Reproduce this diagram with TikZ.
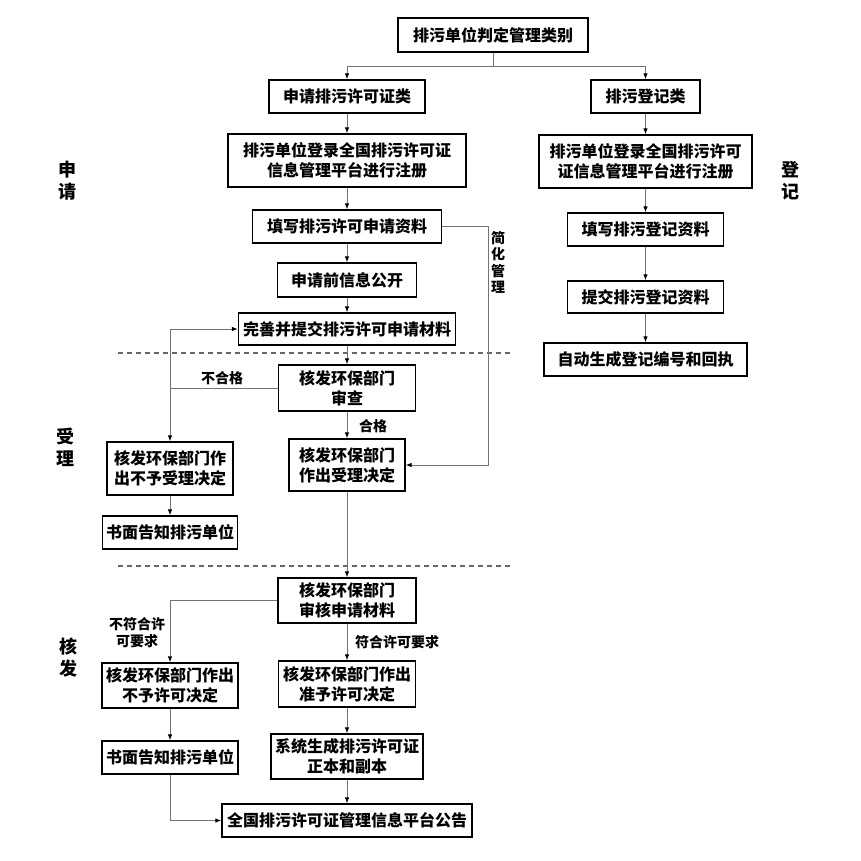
\documentclass[tikz,border=0pt]{standalone}
\usepackage{fontspec}
\newfontfamily\cjk{Noto Sans CJK SC}
\usetikzlibrary{arrows.meta, positioning}

\begin{document}
\begin{tikzpicture}[
  x=1pt, y=-1pt,
  box/.style={draw, line width=1.3pt, font=\cjk\bfseries\fontsize{16}{20}\selectfont, align=center, inner sep=0pt, minimum height=33pt},
  tall/.style={box, minimum height=#1},
  arrow/.style={-{Latex[length=6pt, width=4.5pt, black]}, line width=0.9pt, draw=black!55},
  link/.style={line width=0.9pt, draw=black!55},
  tag/.style={font=\cjk\bfseries\fontsize{14}{17}\selectfont, align=center},
  side/.style={font=\cjk\bfseries\fontsize{18}{22}\selectfont, align=center},
  sep/.style={dashed, dash pattern=on 5pt off 4pt, line width=1.2pt, draw=black!60}
]
\useasboundingbox (0,0) rectangle (861,860);

\node[box, minimum width=190pt, minimum height=34pt] (category) at (493,35) {排污单位判定管理类别};
\node[box, minimum width=156pt] (permit) at (347,96.5) {申请排污许可证类};
\node[box, minimum width=109pt] (register) at (645.5,96.5) {排污登记类};
\node[tall=53pt, minimum width=238pt] (psignup) at (347,160.5) {排污单位登录全国排污许可证\\信息管理平台进行注册};
\node[tall=53pt, minimum width=213pt] (rsignup) at (645.5,161.5) {排污单位登录全国排污许可\\证信息管理平台进行注册};
\node[box, minimum width=189pt] (pfill) at (347,226.5) {填写排污许可申请资料};
\node[box, minimum width=156pt] (rfill) at (645.5,229.5) {填写排污登记资料};
\node[box, minimum width=139pt, minimum height=34pt] (disclose) at (347,280) {申请前信息公开};
\node[box, minimum width=156pt, minimum height=32pt] (rsubmit) at (645.5,297) {提交排污登记资料};
\node[box, minimum width=217pt, minimum height=32pt] (psubmit) at (347,329) {完善并提交排污许可申请材料};
\node[box, minimum width=203pt] (receipt) at (645.5,359.5) {自动生成登记编号和回执};
\node[tall=46pt, minimum width=137pt] (check) at (347,388) {核发环保部门\\审查};
\node[tall=53pt, minimum width=126pt] (reject) at (170,468.5) {核发环保部门作\\出不予受理决定};
\node[tall=52pt, minimum width=116pt] (accept) at (347,465) {核发环保部门\\作出受理决定};
\node[box, minimum width=135pt] (notifya) at (170,532.5) {书面告知排污单位};
\node[tall=45pt, minimum width=138pt] (review) at (347,600.5) {核发环保部门\\审核申请材料};
\node[tall=45pt, minimum width=136pt] (deny) at (170,685.5) {核发环保部门作出\\不予许可决定};
\node[tall=46pt, minimum width=137pt] (grant) at (347,684) {核发环保部门作出\\准予许可决定};
\node[box, minimum width=136pt] (notifyb) at (170,757.5) {书面告知排污单位};
\node[tall=45pt, minimum width=152pt] (issue) at (347,756.5) {系统生成排污许可证\\正本和副本};
\node[box, minimum width=250pt] (publish) at (347,820.5) {全国排污许可证管理信息平台公告};

\node[side] (apply) at (67,181) {申\\请};
\node[side] (record) at (790,181) {登\\记};
\node[side] (accepting) at (65,447) {受\\理};
\node[side] (issuing) at (68,658) {核\\发};

\node[tag, font=\cjk\bfseries\fontsize{14}{16.5}\selectfont] (simple) at (498,262.5) {简\\化\\管\\理};
\node[tag] (fail) at (222,378) {不合格};
\node[tag] (pass) at (373,426) {合格};
\node[tag] (unmet) at (137,633) {不符合许\\可要求};
\node[tag] (met) at (397,642) {符合许可要求};

\coordinate (split) at (493,66);
\coordinate (bypass) at (488,465);

\draw[sep] (118,353) -- (510,353);
\draw[sep] (118,566) -- (510,566);

\draw[link] (category) -- (split);
\draw[arrow] (split) -| (permit);
\draw[arrow] (split) -| (register);
\draw[arrow] (permit) -- (psignup);
\draw[arrow] (psignup) -- (pfill);
\draw[arrow] (pfill) -- (disclose);
\draw[arrow] (disclose) -- (psubmit);
\draw[arrow] (psubmit) -- (check);
\draw[arrow] (register) -- (rsignup);
\draw[arrow] (rsignup) -- (rfill);
\draw[arrow] (rfill) -- (rsubmit);
\draw[arrow] (rsubmit) -- (receipt);
\draw[arrow] (pfill.east) -| (bypass) -- (accept.east);
\draw[arrow] (check.west) -| (reject.north);
\draw[arrow] (reject.north |- check.west) |- (psubmit.west);
\draw[arrow] (check) -- (accept);
\draw[arrow] (reject) -- (notifya);
\draw[arrow] (accept) -- (review);
\draw[arrow] (review.west) -| (deny.north);
\draw[arrow] (review) -- (grant);
\draw[arrow] (deny) -- (notifyb);
\draw[arrow] (grant) -- (issue);
\draw[arrow] (issue) -- (publish);
\draw[arrow] (notifyb.south) |- (publish.west);
\end{tikzpicture}
\end{document}
